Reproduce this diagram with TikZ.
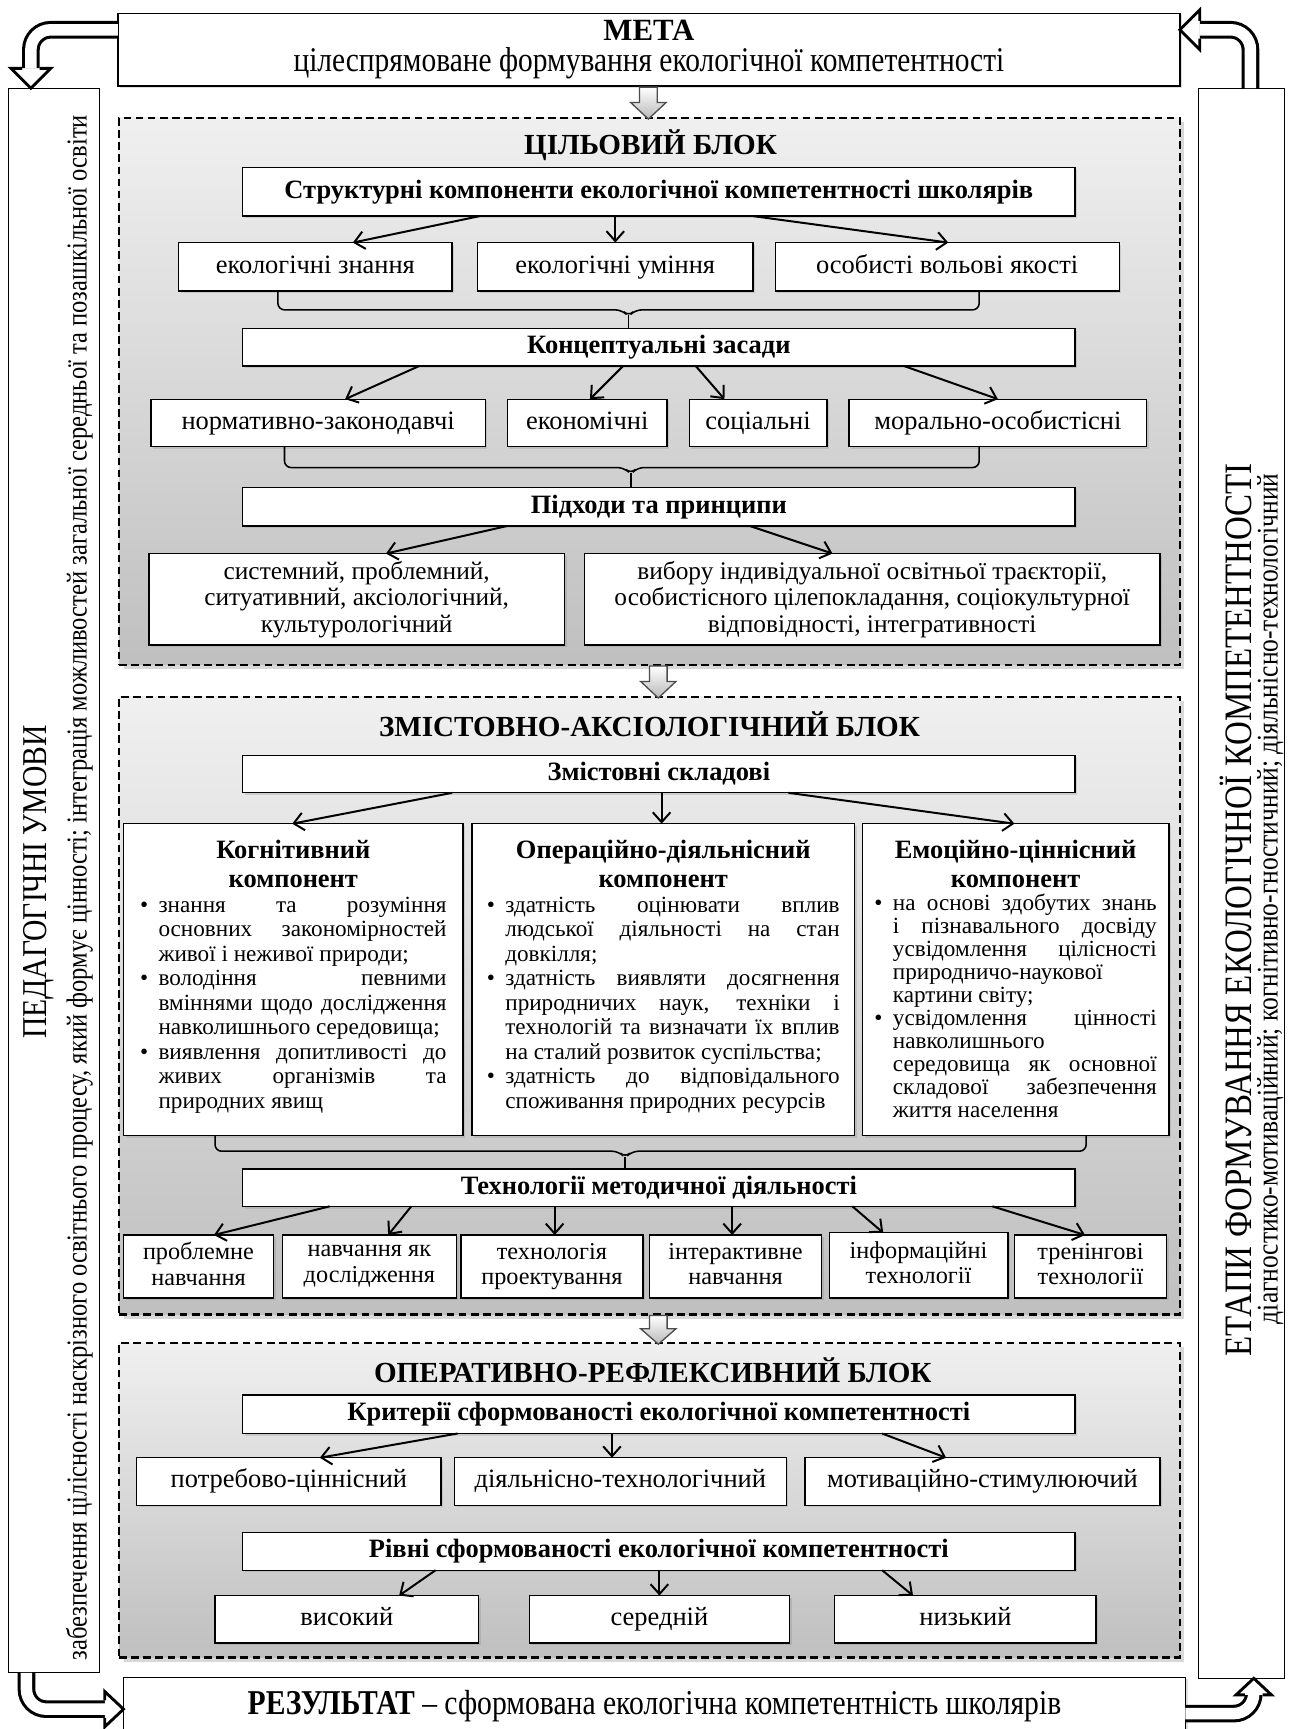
\documentclass[tikz,border=0pt]{standalone}
\usepackage{fontspec}
\setmainfont{Liberation Serif}
\newfontfamily\cnd[FakeStretch=0.85]{Liberation Serif}
\usetikzlibrary{arrows.meta,shadows}
\newcommand\fs[2]{\fontsize{#1}{#2}\selectfont}
\newcommand\itm[1]{\par\noindent\hangindent=0.8em\hangafter=1\makebox[0.8em][l]{\textbullet}#1}
\newcommand\bx[7][box]{\node[#1,minimum width={(#5-#3)*0.5pt},minimum height={(#6-#4)*0.5pt}] (#2) at ({(#3+#5)/2},{(#4+#6)/2}) {#7};}
\newcommand\garrow[4]{\shade[top color=white,bottom color=gray!55,draw=gray!60!black,line width=0.6pt] (#1-8,#2) -- (#1+8,#2) -- (#1+8,#3) -- (#1+16,#3) -- (#1,#4) -- (#1-16,#3) -- (#1-8,#3) -- cycle;}
\newcommand\hband[1]{\draw[line width=8pt,rounded corners=9pt] #1; \draw[line width=5.2pt,white,rounded corners=9pt] #1;}
\newcommand\cpar[4]{\parbox[c][136pt][t]{#1}{\tolerance=10000\emergencystretch=2em\vspace*{4.5pt}%
  {\centering\fs{12}{13.5}\bfseries #2\par}\fs{10.5}{#3}#4\par}}
\begin{document}
\begin{tikzpicture}[x=0.5pt,y=-0.5pt,
  bbase/.style={draw,line width=0.6pt,fill=white,inner sep=2pt,outer sep=0pt,align=center,font=\fs{12}{13},
    drop shadow={shadow xshift=1pt,shadow yshift=-1pt,opacity=0.25}},
  box/.style={bbase,text height=8.6pt,text depth=2.7pt},
  hb/.style={box,font=\fs{12}{13}\bfseries},
  sm/.style={bbase,font=\fs{11}{11.5},execute at end node={\vphantom{ру}}},
  pm/.style={bbase,font=\fs{11.5}{12},execute at end node={\vphantom{ру}}},
  cbox/.style={draw,line width=0.6pt,fill=white,inner sep=0pt,outer sep=0pt,
    drop shadow={shadow xshift=1pt,shadow yshift=-1pt,opacity=0.25}},
  sbox/.style={draw,line width=0.6pt,fill=white,inner sep=0pt,outer sep=0pt},
  blk/.style={draw,line width=1.1pt,dash pattern=on 3.5pt off 2pt,top color=gray!12,bottom color=gray!50,
    inner sep=0pt,outer sep=0pt,drop shadow={shadow xshift=2pt,shadow yshift=-2pt,opacity=0.3}},
  con/.style={line width=0.9pt,-{Straight Barb[length=4.5pt,width=8pt]}},
  brc/.style={line width=0.7pt},
  ttl/.style={font=\fs{13.2}{14}\bfseries,inner sep=0pt}
]
\useasboundingbox (0,0) rectangle (1170,1568);
\fill[white] (0,0) rectangle (1170,1568);

% side boxes
\bx[sbox]{lft}{8}{80}{90}{1517}{}
\bx[sbox]{rgt}{1087}{80}{1165}{1522}{}
\node[rotate=90,inner sep=0pt,font=\cnd\fs{15.8}{16}] (lt) at (35,800) {ПЕДАГОГІЧНІ УМОВИ};
\node[rotate=90,inner sep=0pt,font=\cnd\fs{13.1}{14}] (ls) at (72,805) {забезпечення цілісності наскрізного освітнього процесу, який формує цінності; інтеграція можливостей загальної середньої та позашкільної освіти};
\node[rotate=90,inner sep=0pt,font=\cnd\fs{17.6}{18}] (rt) at (1121,825) {ЕТАПИ ФОРМУВАННЯ ЕКОЛОГІЧНОЇ КОМПЕТЕНТНОСТІ};
\node[rotate=90,inner sep=0pt,font=\cnd\fs{13.6}{14}] (rs) at (1152,815) {діагностико-мотиваційний; когнітивно-гностичний; діяльнісно-технологічний};

% goal and result
\bx[bbase]{meta}{107}{12}{1070}{78}{{\fs{14}{16}\bfseries МЕТА}\\[1pt]{\cnd\fs{15.7}{16}цілеспрямоване формування екологічної компетентності}}
\bx[bbase]{res}{112}{1521}{1075}{1574}{\cnd\fs{15.8}{16}{\bfseries РЕЗУЛЬТАТ} – сформована екологічна компетентність школярів}

% blocks
\bx[blk]{B1}{108}{107}{1070}{603}{}
\bx[blk]{B2}{108}{632}{1070}{1192}{}
\bx[blk]{B3}{108}{1218}{1070}{1503}{}
\node[ttl] (h1) at (590,132) {ЦІЛЬОВИЙ БЛОК};
\node[ttl] (h2) at (589,657) {ЗМІСТОВНО-АКСІОЛОГІЧНИЙ БЛОК};
\node[ttl] (h3) at (592,1243) {ОПЕРАТИВНО-РЕФЛЕКСИВНИЙ БЛОК};

% block 1
\bx[hb]{s1}{220}{152}{975}{196}{Структурні компоненти екологічної компетентності школярів}
\bx{k1}{162}{220}{410}{264}{екологічні знання}
\bx{k2}{433}{220}{683}{264}{екологічні уміння}
\bx{k3}{703}{220}{1015}{264}{особисті вольові якості}
\bx[hb]{s2}{220}{298}{975}{332}{Концептуальні засади}
\bx{z1}{137}{362}{440}{405}{нормативно-законодавчі}
\bx{z2}{460}{362}{605}{405}{економічні}
\bx{z3}{625}{362}{750}{405}{соціальні}
\bx{z4}{770}{362}{1040}{405}{морально-особистісні}
\bx[hb]{s3}{220}{442}{975}{477}{Підходи та принципи}
\bx[pm]{p1}{135}{502}{512}{585}{системний, проблемний,\\ситуативний, аксіологічний,\\культурологічний}
\bx[pm]{p2}{530}{502}{1052}{585}{вибору індивідуальної освітньої траєкторії,\\особистісного цілепокладання, соціокультурної\\відповідності, інтегративності}

% block 2
\bx[hb]{s4}{220}{685}{975}{719}{Змістовні складові}
\bx[cbox]{c1}{112}{747}{420}{1030}{\cpar{139pt}{Когнітивний\\компонент}{11.1pt}{%
  \itm{знання та розуміння основних закономірностей живої і неживої природи;}%
  \itm{володіння певними вміннями щодо дослідження навколишнього середовища;}%
  \itm{виявлення допитливості до живих організмів та природних явищ}}}
\bx[cbox]{c2}{428}{747}{775}{1030}{\cpar{160pt}{Операційно-діяльнісний\\компонент}{11.1pt}{%
  \itm{здатність оцінювати вплив\linebreak людської діяльності на стан довкілля;}%
  \itm{здатність виявляти досягнення природничих наук, техніки і технологій та визначати їх вплив на сталий розвиток суспільства;}%
  \itm{здатність до відповідального споживання природних ресурсів}}}
\bx[cbox]{c3}{782}{747}{1060}{1030}{\cpar{128pt}{Емоційно-ціннісний\\компонент}{10.4pt}{%
  \itm{на основі здобутих знань\linebreak і пізнавального досвіду усвідомлення цілісності природничо-наукової картини світу;}%
  \itm{усвідомлення цінності навколишнього середовища як основної складової забезпечення життя населення}}}
\bx[hb]{s5}{220}{1060}{975}{1094}{Технології методичної діяльності}
\bx[sm]{m1}{112}{1120}{248}{1177}{проблемне\\навчання}
\bx[sm]{m2}{256}{1120}{414}{1177}{навчання як\\дослідження}
\bx[sm]{m3}{418}{1120}{583}{1177}{технологія\\проектування}
\bx[sm]{m4}{589}{1120}{745}{1177}{інтерактивне\\навчання}
\bx[sm]{m5}{752}{1118}{914}{1177}{інформаційні\\технології}
\bx[sm]{m6}{920}{1120}{1058}{1177}{тренінгові\\технології}

% block 3
\bx[hb]{s6}{220}{1265}{975}{1300}{Критерії сформованості екологічної компетентності}
\bx{r1}{124}{1322}{400}{1365}{потребово-ціннісний}
\bx{r2}{412}{1322}{713}{1365}{діяльнісно-технологічний}
\bx{r3}{730}{1322}{1052}{1365}{мотиваційно-стимулюючий}
\bx[hb]{s7}{220}{1390}{975}{1424}{Рівні сформованості екологічної компетентності}
\bx{v1}{195}{1447}{434}{1490}{високий}
\bx{v2}{480}{1447}{716}{1490}{середній}
\bx{v3}{757}{1447}{994}{1490}{низький}

% connectors
\draw[con] (s1.south -| 435,0) -- (k1.north -| 320,0);
\draw[con] (s1.south -| 558,0) -- (k2.north -| 558,0);
\draw[con] (s1.south -| 683,0) -- (k3.north -| 860,0);
\draw[con] (s2.south -| 380,0) -- (z1.north -| 313,0);
\draw[con] (s2.south -| 565,0) -- (z2.north -| 535,0);
\draw[con] (s2.south -| 631,0) -- (z3.north -| 657,0);
\draw[con] (s2.south -| 820,0) -- (z4.north -| 905,0);
\draw[con] (s3.south -| 460,0) -- (p1.north -| 350,0);
\draw[con] (s3.south -| 680,0) -- (p2.north -| 755,0);
\draw[con] (s4.south -| 410,0) -- (c1.north -| 265,0);
\draw[con] (s4.south -| 600,0) -- (c2.north -| 600,0);
\draw[con] (s4.south -| 715,0) -- (c3.north -| 920,0);
\draw[con] (s5.south -| 299,0) -- (m1.north -| 194,0);
\draw[con] (s5.south -| 373,0) -- (m2.north -| 352,0);
\draw[con] (s5.south -| 503,0) -- (m3.north -| 503,0);
\draw[con] (s5.south -| 664,0) -- (m4.north -| 664,0);
\draw[con] (s5.south -| 773,0) -- (m5.north -| 801,0);
\draw[con] (s5.south -| 900,0) -- (m6.north -| 984,0);
\draw[con] (s6.south -| 415,0) -- (r1.north -| 290,0);
\draw[con] (s6.south -| 555,0) -- (r2.north -| 555,0);
\draw[con] (s6.south -| 800,0) -- (r3.north -| 858,0);
\draw[con] (s7.south -| 395,0) -- (v1.north -| 362,0);
\draw[con] (s7.south -| 598,0) -- (v2.north -| 598,0);
\draw[con] (s7.south -| 800,0) -- (v3.north -| 828,0);

% braces
\draw[brc,rounded corners=3pt] (k1.south -| 252,0) |- (564,281) -- (570,287) -- (576,281) -| (k3.south -| 888,0);
\draw[brc] (570,286) -- (s2.north -| 570,0);
\draw[brc,rounded corners=3pt] (z1.south -| 258,0) |- (566,424) -- (572,430) -- (578,424) -| (z4.south -| 888,0);
\draw[brc] (572,429) -- (s3.north -| 572,0);
\draw[brc,rounded corners=3pt] (c1.south -| 195,0) |- (561,1044) -- (567,1050) -- (573,1044) -| (c3.south -| 985,0);
\draw[brc] (567,1049) -- (s5.north -| 567,0);

% block arrows
\garrow{588}{79}{93}{108}
\garrow{597}{604}{618}{633}
\garrow{597}{1193}{1205}{1219}

% corner arrows
\hband{(meta.west |- 0,27) -- (28,27) -- (28,62)}
\fill[white] (10,62) -- (46,62) -- (28,79) -- cycle;
\draw[line width=1.3pt] (20,62) -- (10,62) -- (lft.north -| 28,0) -- (46,62) -- (36,62);

\hband{(rgt.north -| 1134,0) -- (1134,27) -- (1088,27)}
\fill[white] (1088,9) -- (1088,45) -- (1071,27) -- cycle;
\draw[line width=1.3pt] (1088,19) -- (1088,9) -- (meta.east |- 0,27) -- (1088,45) -- (1088,35);

\hband{(lft.south -| 24,0) -- (24,1550) -- (95,1550)}
\fill[white] (95,1534) -- (95,1566) -- (111,1550) -- cycle;
\draw[line width=1.3pt] (95,1542) -- (95,1534) -- (res.west |- 0,1550) -- (95,1566) -- (95,1558);

\hband{(res.east |- 0,1554) -- (1137,1554) -- (1137,1537)}
\fill[white] (1121,1537) -- (1153,1537) -- (1137,1523) -- cycle;
\draw[line width=1.3pt] (1129,1537) -- (1121,1537) -- (rgt.south -| 1137,0) -- (1153,1537) -- (1145,1537);
\end{tikzpicture}
\end{document}
